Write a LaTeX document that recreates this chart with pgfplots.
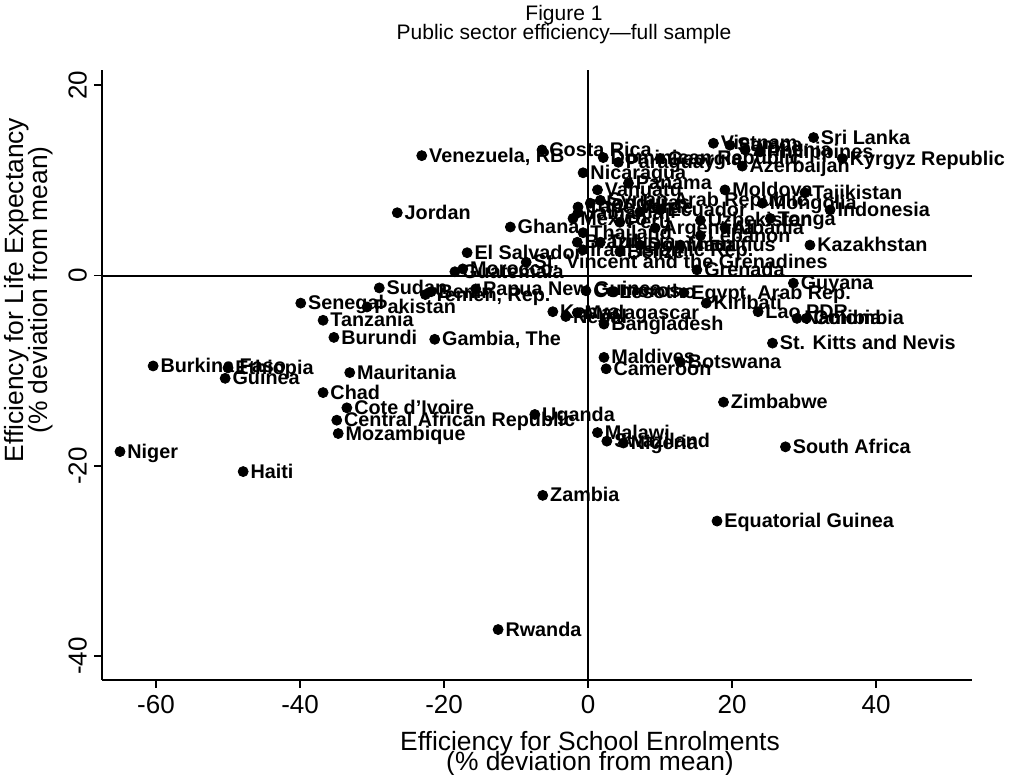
\documentclass[border=0pt]{standalone}
\usepackage{fontspec}
\setmainfont{Liberation Sans}
\usepackage{pgfplots}
\pgfplotsset{compat=1.18}
\usepackage{pgfplotstable}

% efficiency scores, % deviation from mean: school enrolments (x), life expectancy (y)
\pgfplotstableread[col sep=semicolon]{
x;y;name
31.3;14.5;Sri Lanka
-23.1;12.6;Venezuela, RB
-6.4;13.2;Costa Rica
-26.5;6.6;Jordan
-10.8;5.1;Ghana
-16.8;2.4;El Salvador
-18.5;0.4;Guatemala
-17.4;0.7;Morocco
-8.6;1.4;St. Vincent and the Grenadines
15.1;0.6;Grenada
30.8;3.2;Kazakhstan
28.5;-0.8;Guyana
13.3;-1.8;Egypt, Arab Rep.
16.4;-2.9;Kiribati
23.6;-3.8;Lao PDR
29.0;-4.5;Namibia
30.3;-4.5;Colombia
25.6;-7.1;St. Kitts and Nevis
2.2;-5.1;Bangladesh
-1.5;-3.9;Madagascar
-4.9;-3.8;Kenya
-3.1;-4.3;Nepal
-15.6;-1.4;Papua New Guinea
-29.0;-1.3;Sudan
-22.6;-2.0;Yemen, Rep.
-21.8;-1.7;Benin
-0.3;-1.6;Comoros
3.3;-1.7;Lesotho
-39.9;-2.9;Senegal
-30.7;-3.3;Pakistan
-36.8;-4.7;Tanzania
-35.3;-6.5;Burundi
-21.3;-6.7;Gambia, The
-60.4;-9.5;Burkina Faso
-50.0;-9.7;Ethiopia
-50.4;-10.8;Guinea
-33.1;-10.2;Mauritania
-36.8;-12.3;Chad
-33.5;-13.9;Cote d'Ivoire
-34.9;-15.2;Central African Republic
-34.7;-16.6;Mozambique
-65.0;-18.5;Niger
-47.9;-20.6;Haiti
2.2;-8.6;Maldives
2.5;-9.8;Cameroon
12.8;-9.1;Botswana
18.8;-13.3;Zimbabwe
-7.4;-14.6;Uganda
1.3;-16.5;Malawi
2.6;-17.4;Swaziland
4.9;-17.6;Nigeria
27.4;-18.0;South Africa
-6.3;-23.1;Zambia
17.9;-25.8;Equatorial Guinea
-12.5;-37.2;Rwanda
17.4;13.9;Vietnam
19.7;13.7;Samoa
21.8;13.2;Armenia
23.9;13.0;Philippines
35.3;12.3;Kyrgyz Republic
2.1;12.4;Dominican Republic
4.2;11.9;Paraguay
10.0;12.3;Georgia
21.4;11.5;Azerbaijan
-0.7;10.8;Nicaragua
5.6;9.7;Panama
1.3;9.0;Vanuatu
19.0;9.0;Moldova
30.1;8.7;Tajikistan
1.7;7.9;Syrian Arab Republic
0.3;7.6;Honduras
24.2;7.6;Mongolia
33.6;6.9;Indonesia
-1.4;7.2;Cape Verde
-1.4;6.6;Jamaica
10.0;6.9;Ecuador
25.3;6.0;Tonga
15.6;5.8;Uzbekistan
-2.1;6.0;Mexico
4.4;5.6;Peru
7.2;6.7;Fiji
9.3;5.0;Argentina
19.0;5.0;Albania
-0.7;4.5;Thailand
-1.5;3.5;Brazil
1.7;3.5;Tunisia
7.2;3.2;Dominica
12.8;3.2;Mauritius
-0.7;2.7;Iran, Islamic Rep.
4.4;2.5;Belize
15.6;4.2;Lebanon
}\effdata

\begin{document}
\begin{tikzpicture}
\begin{axis}[
  scale only axis,
  width=435pt, height=305pt,
  xmin=-67.5, xmax=53.3,
  ymin=-42.5, ymax=21.6,
  axis lines=left,
  axis line style={-, line width=0.8pt},
  xtick={-60,-40,...,40},
  ytick={-40,-20,0,20},
  tick align=outside,
  major tick length=4pt,
  tick style={line width=0.8pt, black},
  ticklabel style={font=\fontsize{13}{13}\selectfont},
  /pgf/number format/assume math mode=true,
  yticklabel style={rotate=90, anchor=south},
  clip=false,
]
\addplot[black, line width=1pt] coordinates {(0,-42.5) (0,21.6)};
\addplot[black, line width=1pt] coordinates {(-67.5,0) (53.3,0)};
\addplot[only marks, mark=*, mark size=2.5pt, black,
  nodes near coords, point meta=explicit symbolic,
  every node near coord/.append style={anchor=west, xshift=3.5pt, inner sep=0pt,
    text height=1.5ex, text depth=0.25ex, black,
    font=\bfseries\fontsize{9.9}{10}\selectfont}]
  table[x=x, y=y, meta=name] {\effdata};
\end{axis}
\node[font=\fontsize{10.5}{10.5}\selectfont] at (231pt,332.5pt) {Figure 1};
\node[font=\fontsize{10.5}{10.5}\selectfont] at (231pt,323pt) {Public sector efficiency---full sample};
\node[font=\fontsize{13.2}{13.2}\selectfont] at (244pt,-32pt) {Efficiency for School Enrolments};
\node[font=\fontsize{13.2}{13.2}\selectfont] at (244pt,-42pt) {(\% deviation from mean)};
\node[font=\fontsize{13.2}{13.2}\selectfont, rotate=90] at (-42.5pt,195pt) {Efficiency for Life Expectancy};
\node[font=\fontsize{13.2}{13.2}\selectfont, rotate=90] at (-30.5pt,195pt) {(\% deviation from mean)};
\pgfresetboundingbox
\path[use as bounding box] (-51pt,-47.5pt) rectangle (461.5pt,340pt);
\end{tikzpicture}
\end{document}
